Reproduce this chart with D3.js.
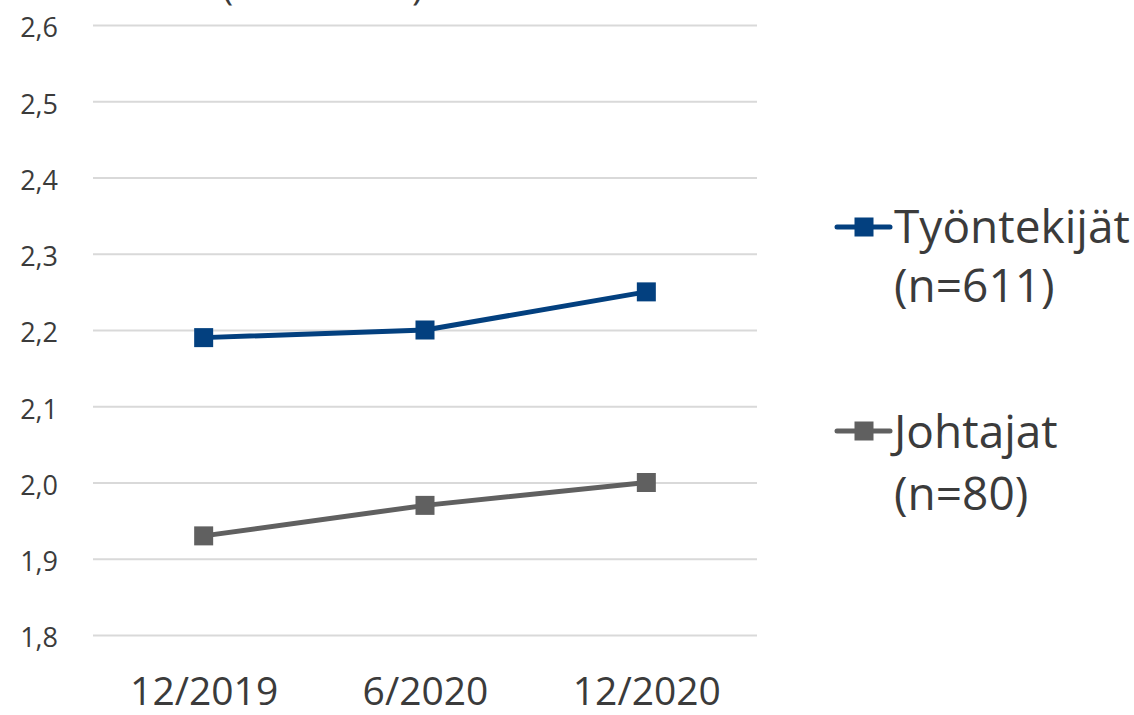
<!DOCTYPE html>
<html>
<head>
<meta charset="utf-8">
<script src="https://cdn.jsdelivr.net/npm/d3@7"></script>
<style>
  html, body { margin: 0; padding: 0; background: #fff; }
  svg { display: block; font-family: "Open Sans", "Noto Sans", sans-serif; }
</style>
</head>
<body>
<svg id="chart" width="1134" height="715"></svg>
<script>
// Survey periods and mean scores per respondent group
const periods = ["12/2019", "6/2020", "12/2020"];
const tyontekijat = [2.19, 2.20, 2.25];
const johtajat = [1.93, 1.97, 2.00];
const yTicks = [1.8, 1.9, 2.0, 2.1, 2.2, 2.3, 2.4, 2.5, 2.6];
const seriesNames = [["Työntekijät", "(n=611)"], ["Johtajat", "(n=80)"]];
const seriesColors = ["#03407f", "#606060"];

const svg = d3.select("#chart");
const plot = { left: 93, right: 757, top: 25, bottom: 635 };
const textColor = "#3b3b3b";

const x = d3.scalePoint().domain(periods).range([plot.left, plot.right]).padding(0.5);
const y = d3.scaleLinear().domain([1.8, 2.6]).range([plot.bottom, plot.top]);

// Title sits mostly above the visible area; only the bracket tails show
const title = svg.append("g").attr("fill", textColor).style("font-size", "38px");
title.append("text").attr("x", 222).attr("y", 0).text("(");
title.append("text").attr("x", 412).attr("y", 0).text(")");

// Horizontal gridlines and y tick labels
const yAxis = d3.axisLeft(y).tickValues(yTicks)
  .tickSize(-(plot.right - plot.left))
  .tickPadding(35)
  .tickFormat(d => d3.format(".1f")(d).replace(".", ","));
const gy = svg.append("g").attr("transform", `translate(${plot.left},0)`).call(yAxis);
gy.select(".domain").remove();
gy.selectAll(".tick line").attr("stroke", "#d9d9d9").attr("stroke-width", 2);
gy.selectAll(".tick text").attr("fill", textColor).attr("dy", "0.44em")
  .style("font-size", "27px").style("font-family", "'Open Sans', sans-serif");

// Category labels
const xAxis = d3.axisBottom(x).tickSize(0).tickPadding(42);
const gx = svg.append("g").attr("transform", `translate(0,${plot.bottom})`).call(xAxis);
gx.select(".domain").remove();
gx.selectAll(".tick text").attr("fill", textColor).style("font-size", "39px")
  .style("font-family", "'Open Sans', sans-serif");

// Lines with square markers
const series = [tyontekijat, johtajat];
const line = d3.line().x((d, i) => x(periods[i])).y(d => y(d));
const markerSize = 19;
series.forEach((vals, si) => {
  svg.append("path").datum(vals)
    .attr("d", line)
    .attr("fill", "none")
    .attr("stroke", seriesColors[si])
    .attr("stroke-width", 5)
    .attr("stroke-linejoin", "round");
  svg.selectAll(null).data(vals).enter().append("rect")
    .attr("x", (d, i) => x(periods[i]) - markerSize / 2)
    .attr("y", d => y(d) - markerSize / 2)
    .attr("width", markerSize)
    .attr("height", markerSize)
    .attr("fill", seriesColors[si]);
});

// Legend: swatch row y, then baselines of the two text lines
const legendRows = [
  { y: 227, b1: 243, b2: 302 },
  { y: 431, b1: 448, b2: 510 }
];
seriesNames.forEach((names, si) => {
  const row = legendRows[si];
  const g = svg.append("g").attr("transform", `translate(836,0)`);
  g.append("line").attr("x1", 1).attr("x2", 54).attr("y1", row.y).attr("y2", row.y)
    .attr("stroke", seriesColors[si]).attr("stroke-width", 5).attr("stroke-linecap", "round");
  g.append("rect").attr("x", 28 - 9.5).attr("y", row.y - 9.5).attr("width", 19).attr("height", 19)
    .attr("fill", seriesColors[si]);
  g.append("text").attr("x", 58).attr("y", row.b1).attr("fill", textColor)
    .style("font-size", "46px").text(names[0]);
  g.append("text").attr("x", 58).attr("y", row.b2).attr("fill", textColor)
    .style("font-size", "46px").text(names[1]);
});
</script>
</body>
</html>
